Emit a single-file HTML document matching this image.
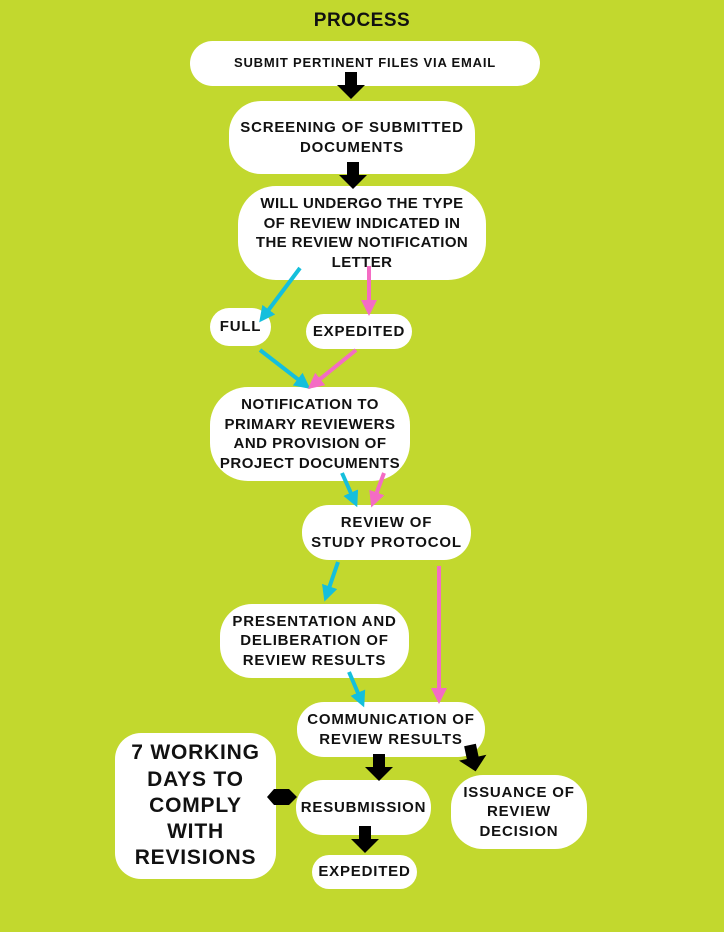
<!DOCTYPE html><html><head><style>
body{margin:0;width:724px;height:932px;background:#c2d82e;position:relative;overflow:hidden;font-family:"Liberation Sans",Arial,sans-serif;font-weight:bold;}
.b{position:absolute;background:#fff;display:flex;align-items:center;justify-content:center;text-align:center;color:#111;box-sizing:border-box;line-height:1.3;letter-spacing:0.8px;white-space:nowrap;}
svg{position:absolute;left:0;top:0}
</style></head><body>
<div style="position:absolute;left:0;width:724px;top:10px;text-align:center;font-size:19px;color:#111;font-weight:900;letter-spacing:0.5px;">PROCESS</div>
<div class="b" style="left:190px;top:41px;width:350px;height:45px;border-radius:23px;font-size:13px;">SUBMIT PERTINENT FILES VIA EMAIL</div>
<div class="b" style="left:229px;top:101px;width:246px;height:73px;border-radius:32px;font-size:15px;">SCREENING OF SUBMITTED<br>DOCUMENTS</div>
<div class="b" style="left:238px;top:186px;width:248px;height:94px;border-radius:38px;font-size:15px;letter-spacing:0.4px;">WILL UNDERGO THE TYPE<br>OF REVIEW INDICATED IN<br>THE REVIEW NOTIFICATION<br>LETTER</div>
<div class="b" style="left:210px;top:308px;width:61px;height:38px;border-radius:19px;font-size:15px;">FULL</div>
<div class="b" style="left:306px;top:314px;width:106px;height:35px;border-radius:18px;font-size:15px;">EXPEDITED</div>
<div class="b" style="left:210px;top:387px;width:200px;height:94px;border-radius:38px;font-size:15px;letter-spacing:0.5px;">NOTIFICATION TO<br>PRIMARY REVIEWERS<br>AND PROVISION OF<br>PROJECT DOCUMENTS</div>
<div class="b" style="left:302px;top:505px;width:169px;height:55px;border-radius:27px;font-size:15px;">REVIEW OF<br>STUDY PROTOCOL</div>
<div class="b" style="left:220px;top:604px;width:189px;height:74px;border-radius:32px;font-size:15px;">PRESENTATION AND<br>DELIBERATION OF<br>REVIEW RESULTS</div>
<div class="b" style="left:297px;top:702px;width:188px;height:55px;border-radius:27px;font-size:15px;">COMMUNICATION OF<br>REVIEW RESULTS</div>
<div class="b" style="left:115px;top:733px;width:161px;height:146px;border-radius:26px;font-size:21px;line-height:1.25;">7 WORKING<br>DAYS TO<br>COMPLY<br>WITH<br>REVISIONS</div>
<div class="b" style="left:296px;top:780px;width:135px;height:55px;border-radius:27px;font-size:15px;">RESUBMISSION</div>
<div class="b" style="left:451px;top:775px;width:136px;height:74px;border-radius:32px;font-size:15px;">ISSUANCE OF<br>REVIEW<br>DECISION</div>
<div class="b" style="left:312px;top:855px;width:105px;height:34px;border-radius:17px;font-size:15px;">EXPEDITED</div>
<svg width="724" height="932">
<defs>
<marker id="c" markerWidth="4" markerHeight="4" refX="2" refY="2" orient="auto"><path d="M0,0L4,2L0,4z" fill="#14bfdc"/></marker>
<marker id="p" markerWidth="4" markerHeight="4" refX="2" refY="2" orient="auto"><path d="M0,0L4,2L0,4z" fill="#f46cc4"/></marker>
<path id="ba" d="M-6,0H6V13H14L0,27L-14,13H-6Z" fill="#000"/>
</defs>
<use href="#ba" x="351" y="72"/>
<use href="#ba" x="353" y="162"/>
<use href="#ba" x="379" y="754"/>
<use href="#ba" x="365" y="826"/>
<use href="#ba" transform="translate(470,745) rotate(-12)"/>
<path d="M267,797l7,-8h15l8,8l-8,8h-15z" fill="#000"/>
<g stroke-width="4" fill="none">
<line x1="300" y1="268" x2="264" y2="316" stroke="#14bfdc" marker-end="url(#c)"/>
<line x1="369" y1="266" x2="369" y2="308" stroke="#f46cc4" marker-end="url(#p)"/>
<line x1="260" y1="350" x2="304" y2="384" stroke="#14bfdc" marker-end="url(#c)"/>
<line x1="356" y1="350" x2="314" y2="384" stroke="#f46cc4" marker-end="url(#p)"/>
<line x1="342" y1="473" x2="354" y2="500" stroke="#14bfdc" marker-end="url(#c)"/>
<line x1="384" y1="473" x2="374" y2="500" stroke="#f46cc4" marker-end="url(#p)"/>
<line x1="338" y1="562" x2="327" y2="594" stroke="#14bfdc" marker-end="url(#c)"/>
<line x1="439" y1="566" x2="439" y2="696" stroke="#f46cc4" marker-end="url(#p)"/>
<line x1="349" y1="672" x2="361" y2="700" stroke="#14bfdc" marker-end="url(#c)"/>
</g>
</svg>
</body></html>
